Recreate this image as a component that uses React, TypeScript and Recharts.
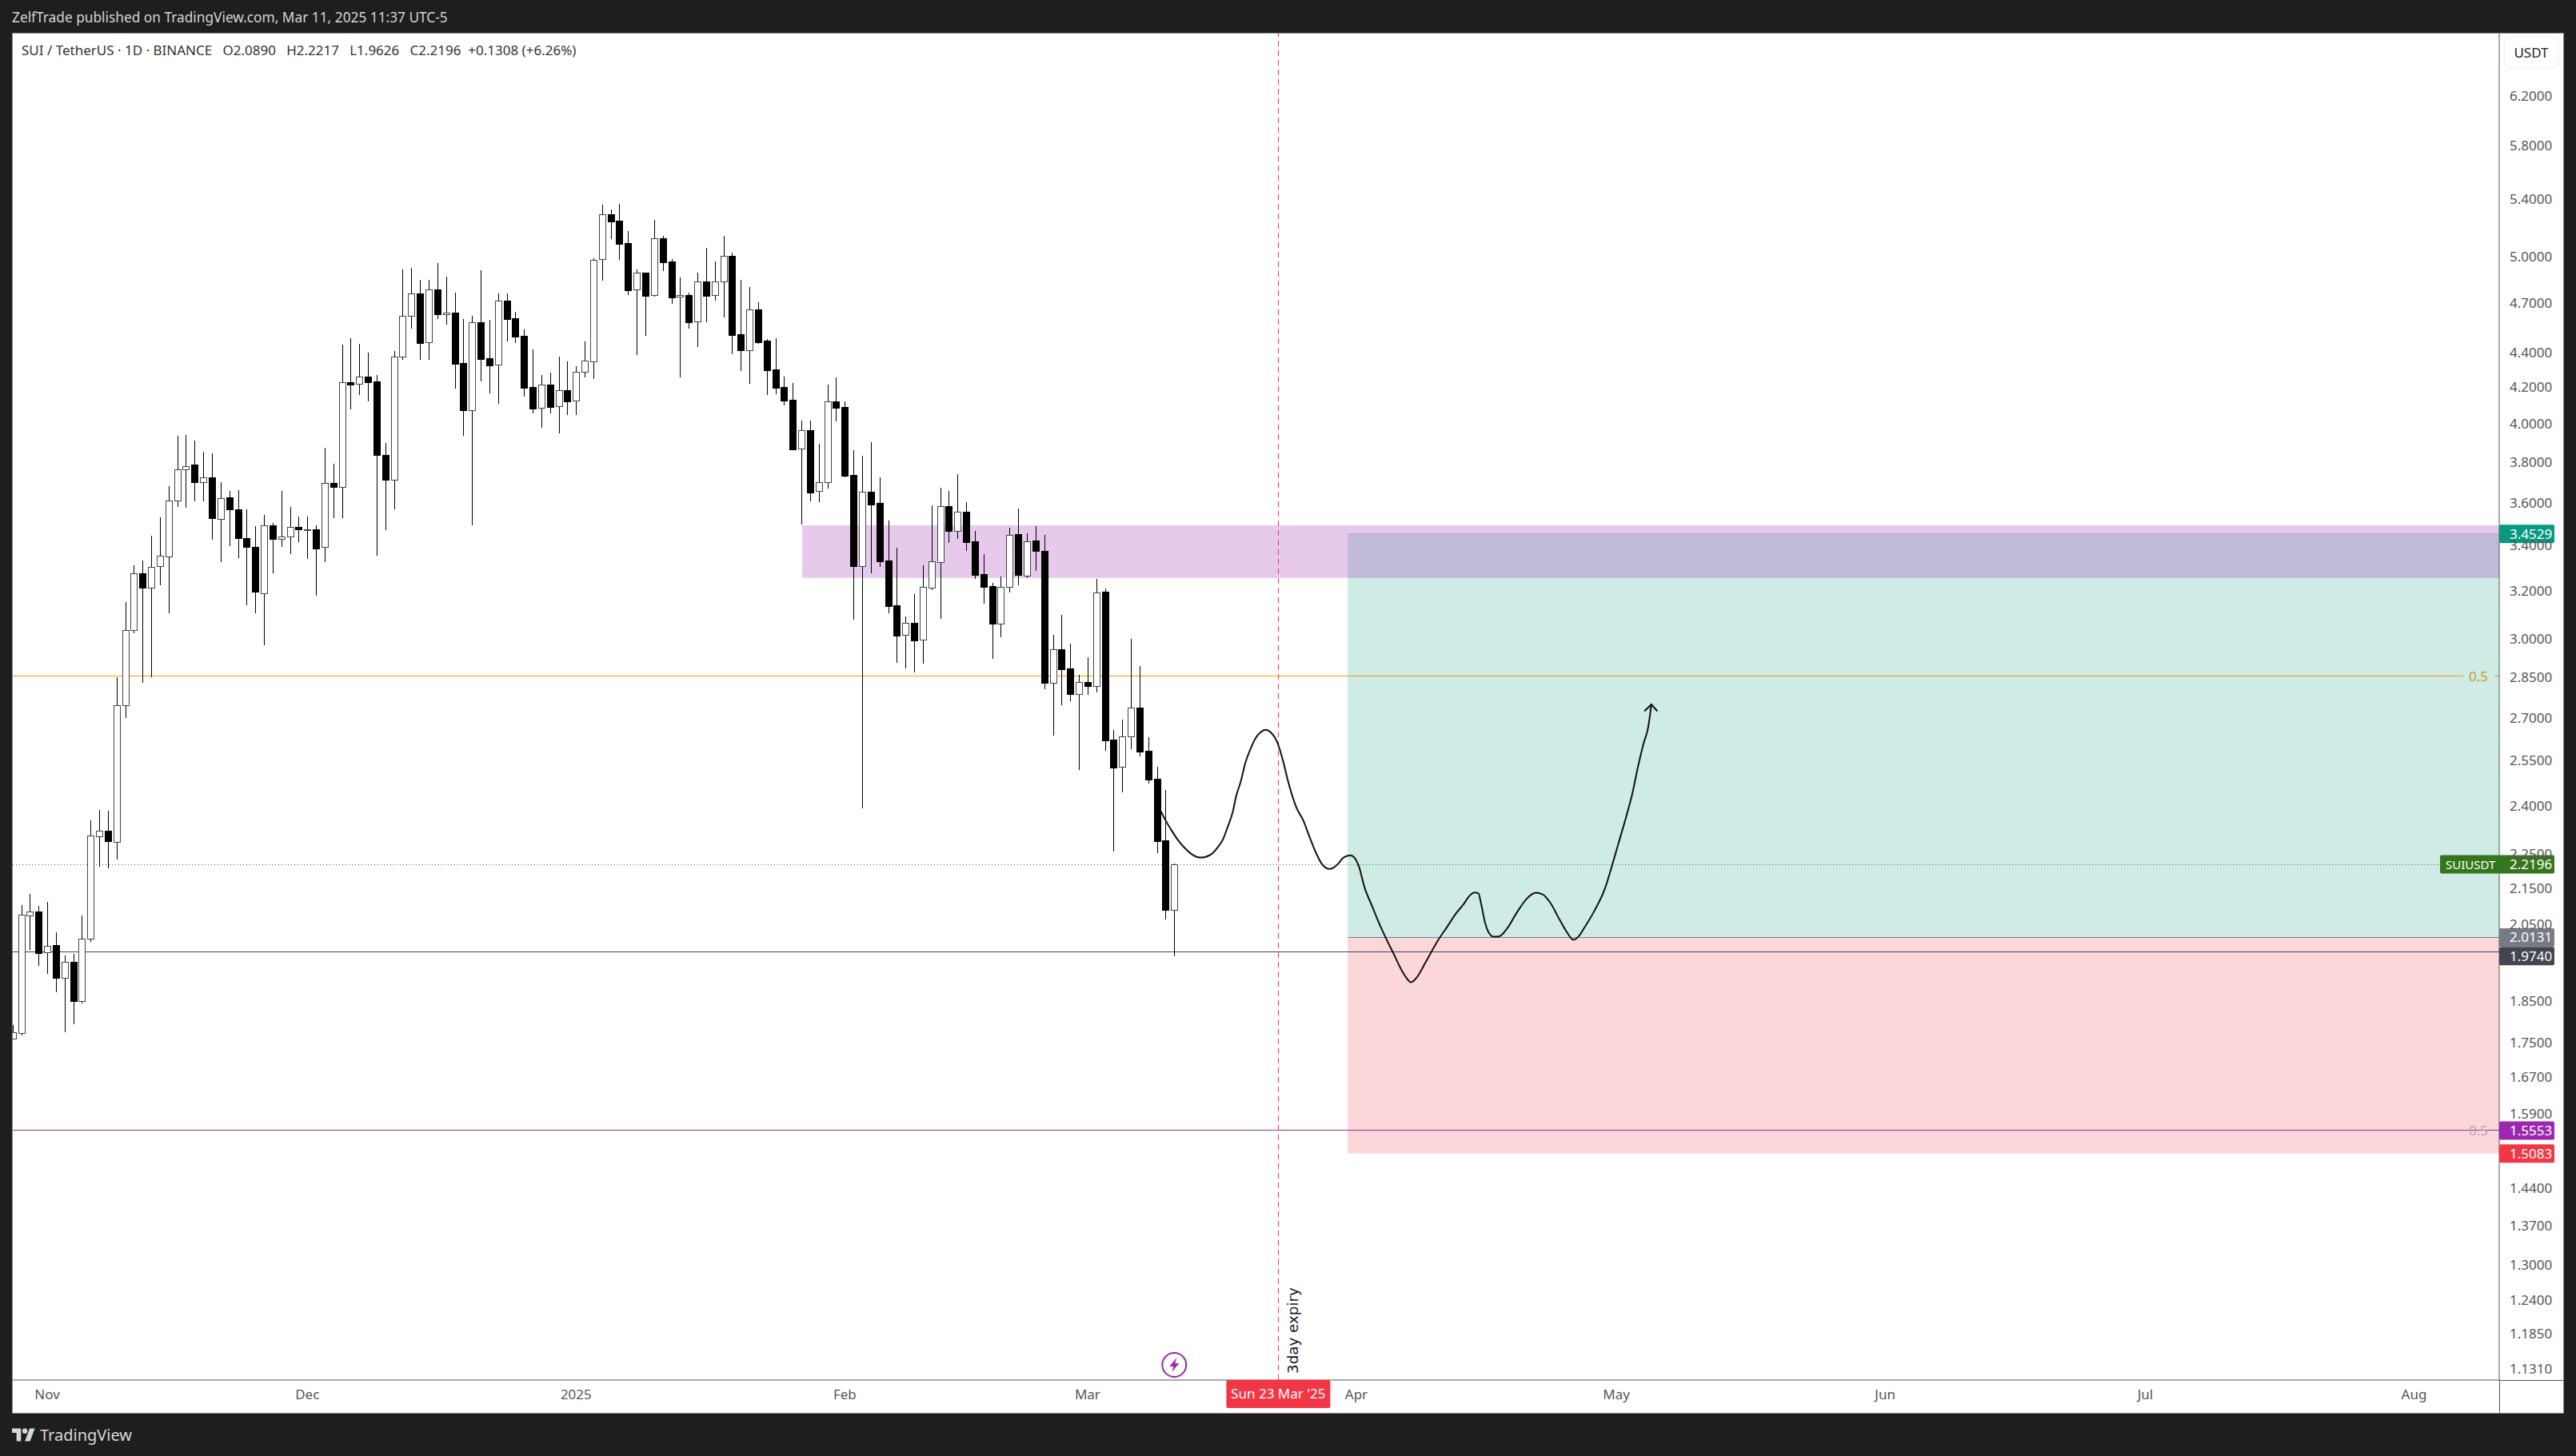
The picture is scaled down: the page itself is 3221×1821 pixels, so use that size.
import { Bar, ComposedChart, Line, ReferenceArea, ReferenceDot, ReferenceLine, XAxis, YAxis } from 'recharts'

const FONT = '"Noto Sans", sans-serif'
const AXIS_TEXT = '#555'

// days counted from 1 Nov 2024, the first candle is 28 Oct
const FIRST_DAY = -4
const opens = [
  1.759, 1.772, 2.073, 2.084, 1.974, 1.993, 1.907, 1.949, 1.849, 2.01,
  2.305, 2.322, 2.289, 2.747, 3.036, 3.275, 3.214, 3.305, 3.352, 3.611,
  3.764, 3.787, 3.698, 3.724, 3.525, 3.624, 3.568, 3.435, 3.394, 3.192,
  3.494, 3.43, 3.442, 3.486, 3.474, 3.475, 3.391, 3.694, 3.673, 4.228,
  4.216, 4.26, 4.233, 3.836, 3.713, 4.375, 4.62, 4.761, 4.458, 4.785,
  4.628, 4.641, 4.339, 4.075, 4.582, 4.367, 4.327, 4.717, 4.607, 4.499,
  4.202, 4.085, 4.215, 4.094, 4.184, 4.123, 4.287, 4.352, 4.982, 5.292,
  5.246, 5.093, 4.785, 4.896, 4.751, 5.126, 4.969, 4.737, 4.751, 4.584,
  4.839, 4.751, 4.837, 5.006, 4.508, 4.415, 4.662, 4.469, 4.301, 4.202,
  4.131, 3.867, 3.966, 3.654, 3.699, 4.122, 4.091, 3.736, 3.307, 3.652,
  3.598, 3.332, 3.138, 3.015, 3.065, 2.996, 3.214, 3.325, 3.583, 3.466,
  3.557, 3.418, 3.272, 3.219, 3.062, 3.218, 3.451, 3.268, 3.422, 3.376,
  2.831, 2.96, 2.885, 2.787, 2.833, 2.819, 3.196, 2.623, 2.528, 2.634,
  2.737, 2.584, 2.489, 2.293, 2.089,
]
const highs = [
  1.791, 2.102, 2.134, 2.1, 2.111, 2.027, 1.965, 1.97, 2.073, 2.355,
  2.388, 2.385, 2.851, 3.153, 3.312, 3.331, 3.444, 3.529, 3.68, 3.937,
  3.939, 3.912, 3.854, 3.846, 3.698, 3.657, 3.66, 3.569, 3.489, 3.542,
  3.504, 3.656, 3.58, 3.533, 3.533, 3.494, 3.875, 3.793, 4.447, 4.487,
  4.45, 4.4, 4.27, 3.899, 4.408, 4.916, 4.925, 4.847, 4.847, 4.958,
  4.87, 4.766, 4.602, 4.62, 4.911, 4.596, 4.761, 4.761, 4.646, 4.538,
  4.419, 4.27, 4.283, 4.377, 4.349, 4.321, 4.464, 4.988, 5.361, 5.327,
  5.367, 5.175, 4.916, 4.896, 5.251, 5.142, 4.984, 4.865, 4.766, 4.896,
  5.06, 4.969, 5.142, 5.027, 4.849, 4.802, 4.707, 4.479, 4.484, 4.261,
  4.224, 4.017, 4.017, 3.895, 4.215, 4.256, 4.122, 3.862, 3.832, 3.903,
  3.724, 3.515, 3.39, 3.091, 3.186, 3.311, 3.587, 3.672, 3.656, 3.74,
  3.602, 3.466, 3.361, 3.235, 3.26, 3.481, 3.572, 3.455, 3.489, 3.449,
  3.017, 3.098, 2.982, 2.86, 2.927, 3.251, 3.209, 2.657, 2.694, 3.001,
  2.894, 2.632, 2.528, 2.452, 2.2217,
]
const lows = [
  1.757, 1.766, 1.98, 1.938, 1.917, 1.871, 1.774, 1.793, 1.843, 2.002,
  2.212, 2.207, 2.233, 2.7, 3.024, 2.828, 2.851, 3.223, 3.105, 3.579,
  3.576, 3.606, 3.606, 3.425, 3.325, 3.398, 3.343, 3.14, 3.105, 2.976,
  3.276, 3.394, 3.361, 3.415, 3.338, 3.179, 3.325, 3.525, 3.527, 4.079,
  4.158, 4.123, 3.354, 3.47, 3.569, 4.359, 4.544, 4.355, 4.355, 4.602,
  4.567, 4.193, 3.937, 3.494, 4.233, 4.166, 4.109, 4.464, 4.455, 4.149,
  4.056, 3.979, 4.056, 3.95, 4.047, 4.047, 4.256, 4.247, 4.844, 5.12,
  4.979, 4.752, 4.386, 4.499, 4.74, 4.906, 4.696, 4.256, 4.543, 4.433,
  4.582, 4.717, 4.612, 4.391, 4.292, 4.219, 4.45, 4.158, 4.162, 4.1,
  3.862, 3.496, 3.608, 3.604, 3.668, 4.015, 3.724, 3.078, 2.393, 3.276,
  3.304, 3.105, 2.906, 2.885, 2.869, 2.903, 3.203, 3.081, 3.411, 3.429,
  3.375, 3.251, 3.145, 2.921, 3.008, 3.192, 3.223, 3.254, 3.286, 2.804,
  2.636, 2.746, 2.76, 2.519, 2.784, 2.793, 2.584, 2.259, 2.445, 2.59,
  2.565, 2.473, 2.254, 2.061, 1.9626,
]
const closes = [
  1.774, 2.075, 2.084, 1.972, 1.991, 1.907, 1.949, 1.849, 2.009, 2.306,
  2.322, 2.289, 2.747, 3.036, 3.275, 3.214, 3.305, 3.352, 3.611, 3.764,
  3.781, 3.698, 3.722, 3.525, 3.623, 3.568, 3.435, 3.394, 3.196, 3.494,
  3.43, 3.442, 3.486, 3.475, 3.475, 3.387, 3.694, 3.673, 4.227, 4.216,
  4.259, 4.228, 3.838, 3.712, 4.375, 4.62, 4.759, 4.455, 4.785, 4.628,
  4.64, 4.336, 4.075, 4.581, 4.363, 4.327, 4.715, 4.603, 4.494, 4.197,
  4.082, 4.214, 4.091, 4.183, 4.122, 4.287, 4.352, 4.982, 5.29, 5.241,
  5.088, 4.782, 4.894, 4.749, 5.124, 4.963, 4.735, 4.749, 4.582, 4.837,
  4.749, 4.837, 5.004, 4.503, 4.414, 4.66, 4.464, 4.297, 4.197, 4.127,
  3.866, 3.965, 3.648, 3.699, 4.12, 4.087, 3.732, 3.307, 3.652, 3.591,
  3.329, 3.135, 3.014, 3.064, 2.995, 3.215, 3.329, 3.583, 3.466, 3.555,
  3.415, 3.268, 3.216, 3.062, 3.218, 3.449, 3.268, 3.42, 3.375, 2.83,
  2.96, 2.882, 2.787, 2.832, 2.818, 3.194, 2.62, 2.528, 2.633, 2.736,
  2.581, 2.486, 2.291, 2.089, 2.2196,
]

// the hand drawn projection
const pathDays = [
  128.47, 129, 129.66, 130.32, 131.2, 132.08, 133.05, 134.2, 134.95, 135.61,
  136.14, 136.72, 137.16, 137.69, 138.17, 138.79, 139.36, 139.94, 140.55, 141.13,
  141.88, 142.58, 143.11, 144.08, 144.88, 145.54, 146.42, 147.08, 147.92, 148.85,
  149.51, 150.3, 150.83, 151.28, 151.94, 152.82, 153.92, 155.25, 156.57, 157.32,
  158.03, 159, 160.54, 161.42, 162.53, 163.41, 164.07, 164.64, 165.08, 165.39,
  165.83, 166.28, 166.85, 167.47, 168.35, 169.58, 170.69, 171.7, 172.45, 173.34,
  174.44, 175.32, 176.03, 176.64, 177.31, 178.41, 179.73, 180.39, 181.19, 182.16,
  182.82, 183.48, 184.14, 184.67, 185.03,
]
const pathPrices = [
  2.382, 2.354, 2.324, 2.297, 2.269, 2.249, 2.24, 2.249, 2.269, 2.295,
  2.332, 2.378, 2.434, 2.482, 2.54, 2.59, 2.627, 2.648, 2.657, 2.648,
  2.613, 2.545, 2.482, 2.395, 2.354, 2.307, 2.25, 2.219, 2.206, 2.22,
  2.24, 2.247, 2.238, 2.215, 2.153, 2.099, 2.036, 1.972, 1.914, 1.896,
  1.91, 1.948, 2.01, 2.04, 2.08, 2.106, 2.129, 2.138, 2.135, 2.106,
  2.055, 2.026, 2.015, 2.016, 2.036, 2.084, 2.121, 2.137, 2.133, 2.11,
  2.062, 2.026, 2.007, 2.016, 2.04, 2.084, 2.153, 2.207, 2.279, 2.369,
  2.438, 2.528, 2.61, 2.667, 2.749,
]
const arrowDays = [184.23, 185.03, 185.73]
const arrowPrices = [2.724, 2.749, 2.724]

const priceTicks = [
  6.2, 5.8, 5.4, 5.0, 4.7, 4.4, 4.2, 4.0, 3.8, 3.6, 3.4, 3.2, 3.0, 2.85, 2.7, 2.55, 2.4, 2.25, 2.15, 2.05,
  1.85, 1.75, 1.67, 1.59, 1.44, 1.37, 1.3, 1.24, 1.185, 1.131,
]
const monthDays = [0, 30, 61, 92, 120, 151, 181, 212, 242, 273]
const monthLabels = ['Nov', 'Dec', '2025', 'Feb', 'Mar', 'Apr', 'May', 'Jun', 'Jul', 'Aug']

const X_START = -3.976
const X_END = 282.83
const PRICE_MIN = 1.1142
const PRICE_MAX = 6.7386
const EXPIRY_DAY = 142
const SUPPLY_START = 87.08
const SUPPLY_LOW = 3.255
const SUPPLY_HIGH = 3.4925
const ZONE_START = 150
const ENTRY = 2.0131
const TARGET = 3.4529
const STOP = 1.5083
const LAST_PRICE = 2.2196
const LOW_LINE = 1.974
const MID_LINE = 2.855
const PURPLE_LINE = 1.5553
// between ReferenceArea and Bar, so the levels stay behind the candles
const LEVEL_Z = 200

const candles = opens.map((open, i) => ({
  day: FIRST_DAY + i,
  open,
  high: highs[i],
  low: lows[i],
  close: closes[i],
}))
const pathData = pathDays.map((day, i) => ({ day, price: pathPrices[i] }))
const arrowData = arrowDays.map((day, i) => ({ day, price: arrowPrices[i] }))

function Candle(props: any) {
  const { x, y, width, height, payload } = props
  const { open, high, low, close } = payload
  const span = Math.log(high) - Math.log(low)
  // bar covers low-high on the log axis, body is placed inside it
  const at = (v: number) => y + (height * (Math.log(high) - Math.log(v))) / span
  const up = close >= open
  const top = at(Math.max(open, close))
  const bottom = at(Math.min(open, close))
  const cx = Math.round(x + width / 2) + 0.5
  return (
    <g shapeRendering="crispEdges">
      <line x1={cx} x2={cx} y1={y} y2={y + height} stroke="#000" strokeWidth={1} />
      <rect
        x={cx - 4}
        y={Math.round(top) + 0.5}
        width={8}
        height={Math.max(Math.round(bottom - top), 1)}
        fill={up ? '#fff' : '#000'}
        stroke={up ? '#434651' : '#000'}
        strokeWidth={1}
      />
    </g>
  )
}

// tags that would collide get pushed down by dy, like TradingView does
function PriceTag({ cx, cy, text, color, dy = 0 }: any) {
  return (
    <g>
      <rect x={cx} y={cy + dy - 11.5} width={69} height={23} rx={2} fill={color} />
      <text x={cx + 13} y={cy + dy + 6} fontSize={17} fontFamily={FONT} fill="#fff">
        {text}
      </text>
    </g>
  )
}

function SymbolTag({ cx, cy }: any) {
  return (
    <g>
      <rect x={cx - 74} y={cy - 11.5} width={143} height={23} rx={2} fill="#35761c" />
      <text x={cx - 67} y={cy + 6} fontSize={15} fontFamily={FONT} fill="#fff">
        SUIUSDT
      </text>
      <text x={cx + 13} y={cy + 6} fontSize={17} fontFamily={FONT} fill="#fff">
        2.2196
      </text>
    </g>
  )
}

function FibLabel({ cx, cy, color }: any) {
  return (
    <text x={cx - 38} y={cy + 6} fontSize={17} fontFamily={FONT} fill={color}>
      0.5
    </text>
  )
}

function ExpiryMarks({ cx, cy }: any) {
  return (
    <g>
      <text
        transform={`translate(${cx + 25} ${cy - 8}) rotate(-90)`}
        fontSize={18.3}
        fontFamily='"DejaVu Sans", sans-serif'
        fill="#131722"
      >
        3day expiry
      </text>
      <rect x={cx - 65} y={cy} width={130} height={35} rx={2} fill="#f23645" />
      <text x={cx} y={cy + 23} textAnchor="middle" fontSize={17} fontFamily={FONT} fill="#fff">
        Sun 23 Mar '25
      </text>
    </g>
  )
}

function Bolt({ cx, cy }: any) {
  return (
    <g>
      <circle cx={cx} cy={cy} r={15} fill="#fff" stroke="#9c27b0" strokeWidth={2} />
      <path
        d={`M${cx + 3} ${cy - 9} L${cx - 6} ${cy + 2} L${cx - 1} ${cy + 2} L${cx - 3} ${cy + 9} L${cx + 6} ${cy - 2} L${cx + 1} ${cy - 2} Z`}
        fill="#9c27b0"
      />
    </g>
  )
}

const overlayText = { position: 'absolute', fontFamily: FONT, whiteSpace: 'pre' } as const

export default function App() {
  return (
    <div style={{ position: 'absolute', left: 0, top: 0, width: 3221, height: 1821, background: '#1e1e1e', overflow: 'hidden' }}>
      <div style={{ ...overlayText, left: 15, top: 10, fontSize: 17.3, color: '#d4d4d4' }}>
        ZelfTrade published on TradingView.com, Mar 11, 2025 11:37 UTC-5
      </div>

      <div style={{ position: 'absolute', left: 15, top: 41, width: 3191, height: 1727, background: '#fff', boxSizing: 'border-box', border: '1px solid #8a8a8a' }} />

      <div style={{ position: 'absolute', left: 16, top: 42 }}>
        <ComposedChart width={3189} height={1726} data={candles} margin={{ top: 0, right: 0, bottom: 0, left: 0 }}>
          <XAxis
            dataKey="day"
            type="number"
            scale="linear"
            domain={[X_START, X_END]}
            allowDataOverflow
            ticks={monthDays}
            interval={0}
            tickFormatter={(d: number) => monthLabels[monthDays.indexOf(d)]}
            tick={{ fill: AXIS_TEXT, fontSize: 17, fontFamily: FONT }}
            tickLine={false}
            tickSize={0}
            tickMargin={12}
            axisLine={{ stroke: '#555' }}
            height={42}
          />
          <YAxis
            orientation="right"
            type="number"
            scale="log"
            domain={[PRICE_MIN, PRICE_MAX]}
            allowDataOverflow
            ticks={priceTicks}
            interval={0}
            tickFormatter={(v: number) => v.toFixed(4)}
            tick={{ fill: AXIS_TEXT, fontSize: 17, fontFamily: FONT }}
            tickLine={false}
            tickSize={0}
            tickMargin={13}
            axisLine={{ stroke: '#555' }}
            width={80}
          />

          <ReferenceArea x1={ZONE_START} x2={X_END} y1={ENTRY} y2={TARGET} fill="#089981" fillOpacity={0.2} stroke="none" />
          <ReferenceArea x1={ZONE_START} x2={X_END} y1={STOP} y2={ENTRY} fill="#f23645" fillOpacity={0.2} stroke="none" />
          <ReferenceArea x1={SUPPLY_START} x2={X_END} y1={SUPPLY_LOW} y2={SUPPLY_HIGH} fill="#9c27b0" fillOpacity={0.25} stroke="none" />

          <ReferenceLine zIndex={LEVEL_Z} shapeRendering="crispEdges" segment={[{ x: X_START, y: MID_LINE }, { x: 278.68, y: MID_LINE }]} stroke="#ff9800" strokeWidth={1} />
          <ReferenceLine zIndex={LEVEL_Z} shapeRendering="crispEdges" segment={[{ x: 282.28, y: MID_LINE }, { x: X_END, y: MID_LINE }]} stroke="#ff9800" strokeWidth={1} />
          <ReferenceLine zIndex={LEVEL_Z} shapeRendering="crispEdges" segment={[{ x: X_START, y: LAST_PRICE }, { x: 276, y: LAST_PRICE }]} stroke="#35761c" strokeWidth={1} strokeDasharray="1 3" />
          <ReferenceLine zIndex={LEVEL_Z} shapeRendering="crispEdges" y={LOW_LINE} stroke="#434651" strokeWidth={1} />
          <ReferenceLine zIndex={LEVEL_Z} shapeRendering="crispEdges" y={PURPLE_LINE} stroke="#9c27b0" strokeWidth={1} />
          <ReferenceLine zIndex={LEVEL_Z} shapeRendering="crispEdges" segment={[{ x: ZONE_START, y: ENTRY }, { x: X_END, y: ENTRY }]} stroke="#787b86" strokeWidth={1} />
          <ReferenceLine zIndex={LEVEL_Z} shapeRendering="crispEdges" segment={[{ x: ZONE_START, y: TARGET }, { x: X_END, y: TARGET }]} stroke="#b3aed0" strokeWidth={1} />
          <ReferenceLine zIndex={LEVEL_Z} shapeRendering="crispEdges" x={EXPIRY_DAY} stroke="#f23645" strokeWidth={1} strokeDasharray="7 5" />

          <Bar dataKey={(d: any) => [d.low, d.high]} barSize={9} shape={<Candle />} isAnimationActive={false} />

          <Line data={pathData} dataKey="price" type="monotone" stroke="#111" strokeWidth={2} dot={false} activeDot={false} isAnimationActive={false} />
          <Line data={arrowData} dataKey="price" type="linear" stroke="#111" strokeWidth={2} dot={false} activeDot={false} isAnimationActive={false} />

          <ReferenceDot x={X_END} y={MID_LINE} shape={<FibLabel color="#c79a25" />} ifOverflow="visible" />
          <ReferenceDot x={X_END} y={PURPLE_LINE} shape={<FibLabel color="#b7a3b0" />} ifOverflow="visible" />
          <ReferenceDot x={130} y={1.137} shape={<Bolt />} ifOverflow="visible" />
          <ReferenceDot x={EXPIRY_DAY} y={PRICE_MIN} shape={<ExpiryMarks />} ifOverflow="visible" />

          <ReferenceDot x={X_END} y={TARGET} shape={<PriceTag text="3.4529" color="#089981" />} ifOverflow="visible" />
          <ReferenceDot x={X_END} y={LAST_PRICE} shape={<SymbolTag />} ifOverflow="visible" />
          <ReferenceDot x={X_END} y={ENTRY} shape={<PriceTag text="2.0131" color="#787b86" />} ifOverflow="visible" />
          <ReferenceDot x={X_END} y={LOW_LINE} shape={<PriceTag text="1.9740" color="#434651" dy={5} />} ifOverflow="visible" />
          <ReferenceDot x={X_END} y={PURPLE_LINE} shape={<PriceTag text="1.5553" color="#9c27b0" />} ifOverflow="visible" />
          <ReferenceDot x={X_END} y={STOP} shape={<PriceTag text="1.5083" color="#f23645" />} ifOverflow="visible" />
        </ComposedChart>
      </div>

      <div style={{ position: 'absolute', left: 3125, top: 1726, width: 80, height: 1, background: '#555' }} />
      <div style={{ position: 'absolute', left: 3125, top: 1726, width: 1, height: 41, background: '#555' }} />

      <div style={{ ...overlayText, left: 27, top: 51, fontSize: 17, color: '#333' }}>
        {'SUI / TetherUS · 1D · BINANCE   O2.0890   H2.2217   L1.9626   C2.2196  +0.1308 (+6.26%)'}
      </div>

      <div style={{ ...overlayText, left: 3131, top: 46, width: 68, height: 39, boxSizing: 'border-box', border: '1px solid #eee', borderRadius: 6, textAlign: 'center', lineHeight: '37px', fontSize: 17, color: '#222' }}>
        USDT
      </div>

      <svg style={{ position: 'absolute', left: 15, top: 1786 }} width={29} height={17} viewBox="0 0 36 20">
        <path d="M14 20H7V7H0V0h14v20zM28 20h-8L27.5 0h8L28 20z" fill="#d8d8d8" />
        <circle cx={20} cy={4} r={4} fill="#d8d8d8" />
      </svg>
      <div style={{ ...overlayText, left: 50, top: 1781, fontSize: 20, color: '#d8d8d8' }}>TradingView</div>
    </div>
  )
}
